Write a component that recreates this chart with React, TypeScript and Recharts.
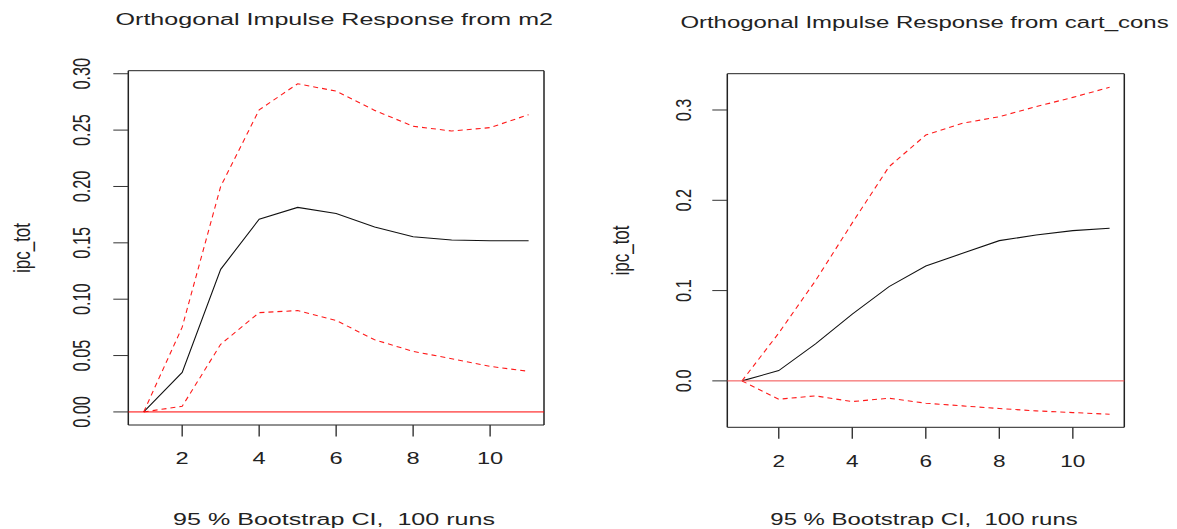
import React from 'react';
import { LineChart, Line, XAxis, YAxis, ReferenceLine } from 'recharts';

// ---- data ----
const steps = [1, 2, 3, 4, 5, 6, 7, 8, 9, 10, 11];

const m2Irf = [0, 0.035, 0.1265, 0.171, 0.1814, 0.176, 0.164, 0.1554, 0.1525, 0.1519, 0.1519];
const m2Upper = [0, 0.0752, 0.2, 0.268, 0.2911, 0.2846, 0.2675, 0.2534, 0.2492, 0.2522, 0.2637];
const m2Lower = [0, 0.005, 0.06, 0.0881, 0.0899, 0.0811, 0.064, 0.0537, 0.0472, 0.0404, 0.036];

const ccIrf = [0, 0.0114, 0.041, 0.074, 0.1044, 0.1273, 0.1413, 0.1553, 0.1616, 0.1664, 0.169];
const ccUpper = [0, 0.053, 0.111, 0.175, 0.2372, 0.2723, 0.2853, 0.2926, 0.3037, 0.314, 0.3251];
const ccLower = [0, -0.0203, -0.0166, -0.0229, -0.0192, -0.0247, -0.0277, -0.0306, -0.0332, -0.0351, -0.0369];

const xTicks = [2, 4, 6, 8, 10];
const m2YTicks = [0, 0.05, 0.1, 0.15, 0.2, 0.25, 0.3];
const ccYTicks = [0, 0.1, 0.2, 0.3];

const titles = ['Orthogonal Impulse Response from m2', 'Orthogonal Impulse Response from cart_cons'];
const subTitle = '95 % Bootstrap CI,  100 runs';
const yLabel = 'ipc_tot';

// ---- styles ----
const FONT = "'Liberation Sans', Arial, Helvetica, sans-serif";
const TXT = '#222';
const X_DOMAIN: [number, number] = [0.6, 11.4];

function makeYTick(decimals: number, s: number) {
  return (props: any) => {
    const { x, y, payload } = props;
    return (
      <text
        transform={`translate(${x},${y}) scale(${s},1) rotate(-90)`}
        textAnchor="middle"
        fontFamily={FONT}
        fontSize={16.3}
        fill={TXT}
      >
        {Number(payload.value).toFixed(decimals)}
      </text>
    );
  };
}

function makeXTick(s: number) {
  return (props: any) => {
    const { x, y, payload } = props;
    return (
      <text
        transform={`translate(${x},${y}) scale(${s},1)`}
        textAnchor="middle"
        fontFamily={FONT}
        fontSize={16.3}
        fill={TXT}
      >
        {payload.value}
      </text>
    );
  };
}

type PanelProps = {
  left: number;
  width: number;
  margin: { top: number; right: number; bottom: number; left: number };
  irf: number[];
  upper: number[];
  lower: number[];
  yDomain: [number, number];
  yTicks: number[];
  decimals: number;
  yTickMargin: number;
  xTickMargin: number;
  zeroColor: string;
  s: number;
};

function Panel(p: PanelProps) {
  const data = steps.map((st, i) => ({ step: st, irf: p.irf[i], upper: p.upper[i], lower: p.lower[i] }));
  return (
    <div style={{ position: 'absolute', left: p.left, top: 0 }}>
      <LineChart width={p.width} height={529} data={data} margin={p.margin}>
        <XAxis
          dataKey="step"
          type="number"
          domain={X_DOMAIN}
          ticks={xTicks}
          allowDataOverflow
          axisLine={false}
          tickSize={11.5}
          tickMargin={p.xTickMargin}
          tickLine={{ stroke: '#333', strokeWidth: 1.4 }}
          tick={makeXTick(p.s)}
          height={60}
          interval={0}
        />
        <YAxis
          type="number"
          domain={p.yDomain}
          ticks={p.yTicks}
          allowDataOverflow
          axisLine={false}
          tickSize={15}
          tickMargin={p.yTickMargin}
          tickLine={{ stroke: '#333', strokeWidth: 1 }}
          tick={makeYTick(p.decimals, p.s)}
          width={60}
          interval={0}
        />
        <ReferenceLine y={p.yDomain[0]} stroke="#222" strokeWidth={1} ifOverflow="visible" />
        <ReferenceLine y={p.yDomain[1]} stroke="#222" strokeWidth={1} ifOverflow="visible" />
        <ReferenceLine x={X_DOMAIN[0]} stroke="#222" strokeWidth={1.5} ifOverflow="visible" />
        <ReferenceLine x={X_DOMAIN[1]} stroke="#222" strokeWidth={1.5} ifOverflow="visible" />
        <Line type="linear" dataKey="irf" stroke="#111" strokeWidth={1.1} dot={false} isAnimationActive={false} />
        <Line type="linear" dataKey="upper" stroke="#ff1a1a" strokeWidth={1.1} strokeDasharray="5 4" dot={false} isAnimationActive={false} />
        <Line type="linear" dataKey="lower" stroke="#ff1a1a" strokeWidth={1.1} strokeDasharray="5 4" dot={false} isAnimationActive={false} />
        <ReferenceLine y={0} stroke={p.zeroColor} strokeWidth={1} />
      </LineChart>
    </div>
  );
}

const SL = 1.45;
const SR = 1.385;

export default function App() {
  return (
    <div style={{ position: 'absolute', left: 0, top: 0, width: 1177, height: 529, background: '#fff', overflow: 'hidden' }}>
      <Panel
        left={0}
        width={590}
        margin={{ top: 70.7, right: 46, bottom: 44, left: 68.3 }}
        irf={m2Irf}
        upper={m2Upper}
        lower={m2Lower}
        yDomain={[-0.0116, 0.3027]}
        yTicks={m2YTicks}
        decimals={2}
        yTickMargin={23.8}
        xTickMargin={27.5}
        zeroColor="#ff0000"
        s={SL}
      />
      <Panel
        left={590}
        width={587}
        margin={{ top: 73.7, right: 52.7, bottom: 41.7, left: 77.3 }}
        irf={ccIrf}
        upper={ccUpper}
        lower={ccLower}
        yDomain={[-0.0514, 0.3402]}
        yTicks={ccYTicks}
        decimals={1}
        yTickMargin={21.8}
        xTickMargin={27.7}
        zeroColor="#f24a4a"
        s={SR}
      />
      <svg width={1177} height={529} style={{ position: 'absolute', left: 0, top: 0, pointerEvents: 'none' }}>
        <g fontFamily={FONT} fill={TXT}>
          <text transform={`translate(334.3,25) scale(${SL},1)`} textAnchor="middle" fontSize={17.3}>{titles[0]}</text>
          <text transform={`translate(924.5,28) scale(${SR},1)`} textAnchor="middle" fontSize={17.3}>{titles[1]}</text>
          <text transform={`translate(334,525) scale(${SL},1)`} textAnchor="middle" fontSize={17.3} style={{ whiteSpace: 'pre' }}>{subTitle}</text>
          <text transform={`translate(924,525) scale(${SR},1)`} textAnchor="middle" fontSize={17.3} style={{ whiteSpace: 'pre' }}>{subTitle}</text>
          <text transform={`translate(29.8,248) scale(${SL},1) rotate(-90)`} textAnchor="middle" fontSize={17}>{yLabel}</text>
          <text transform={`translate(628.8,250.5) scale(${SR},1) rotate(-90)`} textAnchor="middle" fontSize={17}>{yLabel}</text>
        </g>
      </svg>
    </div>
  );
}
